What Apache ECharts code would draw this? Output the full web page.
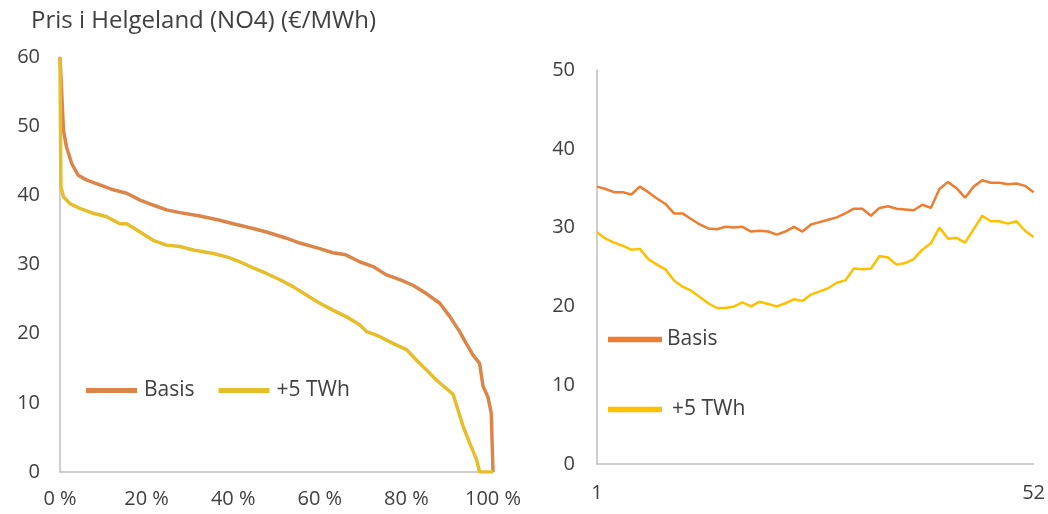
<!DOCTYPE html>
<html>
<head>
<meta charset="utf-8">
<script src="https://cdn.jsdelivr.net/npm/echarts@6/dist/echarts.min.js"></script>
<style>
  html, body { margin: 0; padding: 0; background: #ffffff; }
  #chart { width: 1048px; height: 514px; }
</style>
</head>
<body>
<div id="chart"></div>
<script>
// Price duration curve (share of hours, %) for Helgeland (NO4)
const basisPct   = [0, 0.8, 1.5, 2.7, 4.2, 6.2, 9.2, 12.3, 15.4, 18.5, 21.5, 24.6, 27.7, 32.3, 36.9, 40, 44.6, 47.7, 52.3, 55.4, 60, 63, 66, 69.2, 72.3, 75.4, 78.5, 81.5, 84.6, 87.7, 90, 92.3, 93.8, 95.4, 96.9, 97.7, 98.8, 99.6, 100];
const basisPrice = [60, 49.4, 47, 44.6, 42.9, 42.2, 41.5, 40.8, 40.3, 39.3, 38.6, 37.9, 37.5, 37.0, 36.4, 35.9, 35.2, 34.7, 33.8, 33.1, 32.3, 31.7, 31.4, 30.4, 29.7, 28.5, 27.8, 27.0, 25.8, 24.4, 22.5, 20.3, 18.6, 16.9, 15.7, 12.4, 10.9, 8.5, 0];
const twhPct     = [0, 0.2, 0.8, 2.3, 4.6, 7.7, 10.8, 13.8, 15.4, 18.5, 21.5, 24.6, 27.7, 30.8, 35.4, 38.5, 41.5, 44.6, 47.7, 50.8, 53.8, 56.9, 60, 63, 66, 69.2, 70.8, 73.8, 76.9, 80, 82.3, 84.6, 86.9, 89.2, 90.8, 91.9, 93.1, 94.6, 96.2, 96.9, 100];
const twhPrice   = [60, 41.2, 39.8, 38.8, 38.1, 37.4, 36.9, 35.9, 35.9, 34.7, 33.5, 32.8, 32.6, 32.1, 31.6, 31.1, 30.4, 29.5, 28.7, 27.8, 26.8, 25.6, 24.4, 23.4, 22.5, 21.3, 20.3, 19.6, 18.6, 17.7, 16.2, 14.8, 13.3, 12.1, 11.2, 9.0, 6.6, 4.2, 1.8, 0, 0];

// Weekly average price, week 1..52
const weeks = Array.from({ length: 52 }, (_, i) => String(i + 1));
const basisWeekly = [35.2, 34.9, 34.5, 34.5, 34.2, 35.2, 34.5, 33.7, 33.0, 31.8, 31.8, 31.1, 30.4, 29.9, 29.8, 30.1, 30.0, 30.1, 29.5, 29.6, 29.5, 29.1, 29.5, 30.1, 29.5, 30.4, 30.7, 31.0, 31.3, 31.8, 32.4, 32.4, 31.5, 32.5, 32.7, 32.4, 32.3, 32.2, 32.9, 32.5, 34.9, 35.8, 35.0, 33.8, 35.2, 36.0, 35.7, 35.7, 35.5, 35.6, 35.3, 34.5];
const twhWeekly   = [29.4, 28.6, 28.1, 27.7, 27.2, 27.3, 26.0, 25.3, 24.7, 23.3, 22.5, 22.0, 21.2, 20.4, 19.8, 19.8, 20.0, 20.5, 20.0, 20.6, 20.3, 20.0, 20.4, 20.9, 20.7, 21.5, 21.9, 22.3, 23.0, 23.3, 24.8, 24.7, 24.8, 26.4, 26.2, 25.3, 25.5, 26.0, 27.2, 28.0, 30.0, 28.6, 28.7, 28.1, 29.8, 31.5, 30.8, 30.8, 30.5, 30.8, 29.6, 28.8];

const leftTicks = [0, 20, 40, 60, 80, 100];

const zip = (xs, ys) => xs.map((x, i) => [x, ys[i]]);

const FONT = '"Open Sans", "Noto Sans", sans-serif';
const TEXT = '#404040';
const AXIS = '#BFBFBF';

const colLeftBasis = '#DC8548';
const colLeftTwh = '#E6BE2A';
const colRightBasis = '#ED7D31';
const colRightTwh = '#FFC000';

const LINE_ICON = 'path://M0,0H10V1H0Z';

const chart = echarts.init(document.getElementById('chart'), null, { renderer: 'canvas' });

chart.setOption({
  animation: false,
  backgroundColor: '#ffffff',
  textStyle: { fontFamily: FONT, color: TEXT },
  title: {
    text: 'Pris i Helgeland (NO4) (€/MWh)',
    left: 31, top: 9, padding: 0,
    textStyle: { fontFamily: FONT, fontSize: 24, fontWeight: 'normal', color: TEXT }
  },
  legend: [
    {
      left: 86, top: 380, padding: 0,
      orient: 'horizontal',
      itemWidth: 51, itemHeight: 14, itemGap: 24,
      textStyle: { fontFamily: FONT, fontSize: 21, color: TEXT, padding: [0, 0, 0, 2] },
      data: [
        { name: 'Basis', icon: LINE_ICON, itemStyle: { color: colLeftBasis }, lineStyle: { color: colLeftBasis, width: 4 } },
        { name: '+5 TWh', icon: LINE_ICON, itemStyle: { color: colLeftTwh }, lineStyle: { color: colLeftTwh, width: 4 } }
      ],
      selectedMode: false
    },
    {
      left: 608, top: 329, padding: 0,
      orient: 'vertical',
      itemWidth: 54, itemHeight: 14, itemGap: 49,
      textStyle: { fontFamily: FONT, fontSize: 21, color: TEXT },
      data: [
        { name: 'Basis', icon: LINE_ICON, itemStyle: { color: colRightBasis }, lineStyle: { color: colRightBasis, width: 3 } },
        { name: '+5 TWh', icon: LINE_ICON, itemStyle: { color: colRightTwh }, lineStyle: { color: colRightTwh, width: 3 },
          textStyle: { padding: [0, 0, 0, 5] } }
      ],
      selectedMode: false
    }
  ],
  grid: [
    { left: 60, top: 57, width: 433, height: 415 },
    { left: 597, top: 70, width: 440, height: 394 }
  ],
  xAxis: [
    {
      gridIndex: 0, type: 'value', min: 0, max: 100, interval: 20,
      axisLine: { show: true, lineStyle: { color: AXIS, width: 1.5 } },
      axisTick: { show: false },
      splitLine: { show: false },
      axisLabel: {
        margin: 17, fontFamily: FONT, fontSize: 20, color: TEXT,
        customValues: leftTicks,
        formatter: v => v + ' %'
      }
    },
    {
      gridIndex: 1, type: 'category', data: weeks, boundaryGap: false,
      axisLine: { show: true, lineStyle: { color: AXIS, width: 1.5 } },
      axisTick: { show: false },
      splitLine: { show: false },
      axisLabel: {
        margin: 19, fontFamily: FONT, fontSize: 20, color: TEXT,
        interval: (i) => i === 0 || i === weeks.length - 1
      }
    }
  ],
  yAxis: [
    {
      gridIndex: 0, type: 'value', min: 0, max: 60, interval: 10,
      axisLine: { show: true, lineStyle: { color: AXIS, width: 1.5 } },
      axisTick: { show: false },
      splitLine: { show: false },
      axisLabel: { margin: 20, fontFamily: FONT, fontSize: 20, color: TEXT }
    },
    {
      gridIndex: 1, type: 'value', min: 0, max: 50, interval: 10,
      axisLine: { show: true, lineStyle: { color: AXIS, width: 1.5 } },
      axisTick: { show: false },
      splitLine: { show: false },
      axisLabel: { margin: 22, fontFamily: FONT, fontSize: 20, color: TEXT }
    }
  ],
  series: [
    {
      name: 'Basis', type: 'line', xAxisIndex: 0, yAxisIndex: 0,
      data: zip(basisPct, basisPrice), showSymbol: false, symbol: 'none',
      lineStyle: { color: colLeftBasis, width: 3.5 }, itemStyle: { color: colLeftBasis }, z: 3
    },
    {
      name: '+5 TWh', type: 'line', xAxisIndex: 0, yAxisIndex: 0,
      data: zip(twhPct, twhPrice), showSymbol: false, symbol: 'none',
      lineStyle: { color: colLeftTwh, width: 3.5 }, itemStyle: { color: colLeftTwh }, z: 4
    },
    {
      name: 'Basis', type: 'line', xAxisIndex: 1, yAxisIndex: 1,
      data: basisWeekly, showSymbol: false, symbol: 'none',
      lineStyle: { color: colRightBasis, width: 2.5 }, itemStyle: { color: colRightBasis }
    },
    {
      name: '+5 TWh', type: 'line', xAxisIndex: 1, yAxisIndex: 1,
      data: twhWeekly, showSymbol: false, symbol: 'none',
      lineStyle: { color: colRightTwh, width: 2.5 }, itemStyle: { color: colRightTwh }
    }
  ]
});
</script>
</body>
</html>
